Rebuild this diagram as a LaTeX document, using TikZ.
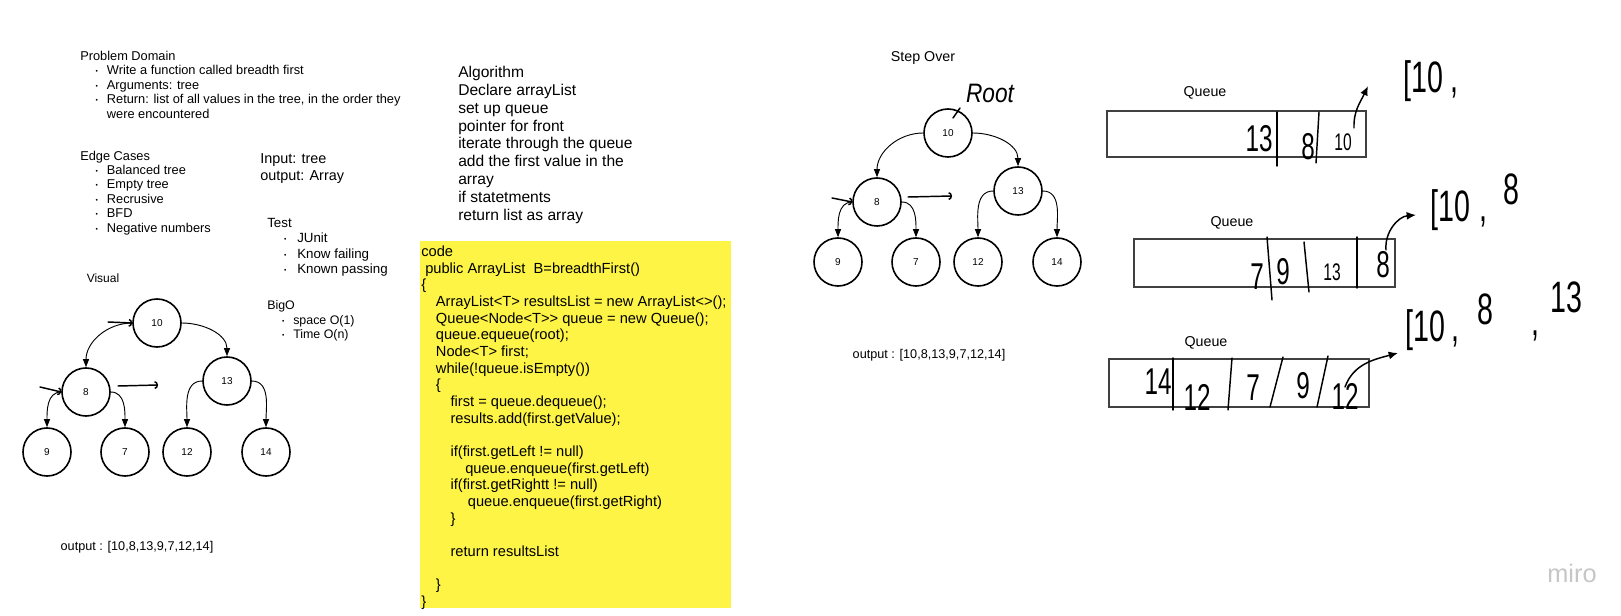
\documentclass[tikz,border=0pt]{standalone}
\usepackage{fontspec}
\setmainfont{Liberation Sans}
\usepackage{graphicx}
\usetikzlibrary{arrows.meta}
\newcommand{\EdgeArrowType}{Triangle}
\newcommand{\Hand}[1]{\scalebox{0.65}[1]{#1}}
\newcommand{\Dot}{\raisebox{0.7pt}{\fontsize{5}{5}\selectfont\textbullet}}
\newcommand{\Item}[2]{\makebox[#2][l]{\hspace*{#1}\Dot}}
\definecolor{stickyyellow}{RGB}{254,244,69}
\definecolor{boxgray}{RGB}{64,64,64}

\begin{document}
\begin{tikzpicture}[x=0.75pt, y=0.75pt,
    txt/.style={anchor=north west, inner sep=0pt, align=left},
    headtext/.style={inner sep=0pt, font=\fontsize{10.7}{10.7}\selectfont},
    tnode/.style={circle, draw, line width=1.2pt, minimum size=36pt, inner sep=0pt, font=\fontsize{7.5}{7.5}\selectfont},
    tedge/.style={-{\EdgeArrowType[length=6pt,width=4.5pt]}, line width=0.7pt},
    scribble/.style={line width=1.1pt, line cap=round, line join=round},
    handarrow/.style={scribble, -{Arc Barb[length=2.5pt,width=6pt]}},
    curlarrow/.style={scribble, -{Latex[length=7pt,width=6pt]}},
    hand/.style={inner sep=0pt, font=\fontsize{28}{28}\selectfont},
    handsmall/.style={inner sep=0pt, font=\fontsize{18}{18}\selectfont},
    handbig/.style={inner sep=0pt, anchor=base west, font=\fontsize{33}{33}\selectfont},
    queuebox/.style={draw=boxgray, line width=1pt}]
    \fill[white] (0,0) rectangle (1621,-616);
    \useasboundingbox (0,0) rectangle (1621,-616);

    \node[txt, font=\fontsize{9.6}{10.9}\selectfont] (domain) at (80,-50.5) {Problem Domain\\
        \Item{11.6pt}{20pt}Write a function called breadth first\\
        \Item{11.6pt}{20pt}Arguments: tree\\
        \Item{11.6pt}{20pt}Return: list of all values in the tree, in the order they\\
        \hspace*{20pt}were encountered};
    \node[txt, font=\fontsize{9.6}{10.8}\selectfont] (edges) at (80,-150.5) {Edge Cases\\
        \Item{11.6pt}{20pt}Balanced tree\\
        \Item{11.6pt}{20pt}Empty tree\\
        \Item{11.6pt}{20pt}Recrusive\\
        \Item{11.6pt}{20pt}BFD\\
        \Item{11.6pt}{20pt}Negative numbers};
    \node[txt, font=\fontsize{10.8}{12.75}\selectfont] (io) at (260,-153.8) {Input: tree\\output: Array};
    \node[txt, font=\fontsize{10}{11.5}\selectfont] (tests) at (267,-218) {Test\\
        \Item{12.6pt}{22.5pt}JUnit\\
        \Item{12.6pt}{22.5pt}Know failing\\
        \Item{12.6pt}{22.5pt}Known passing};
    \node[txt, font=\fontsize{9.3}{10.9}\selectfont] (bigo) at (267,-300.4) {BigO\\
        \Item{11.1pt}{19.5pt}space O(1)\\
        \Item{11.1pt}{19.5pt}Time O(n)};
    \node[font=\fontsize{9}{9}\selectfont] (visual) at (103,-278) {Visual};

    \node[txt, font=\fontsize{11.7}{13.4}\selectfont] (algo) at (458,-65.9) {Algorithm\\Declare arrayList\\set up queue\\pointer for front\\iterate through the queue\\add the first value in the\\array\\if statetments\\return list as array};

    \fill[stickyyellow] (420,-241) rectangle (731,-608);
    \node[txt, font=\fontsize{11}{12.5}\selectfont] (code) at (421,-245.6) {code\\
        \hspace*{3pt}public ArrayList\ \ B=breadthFirst()\\
        \{\\
        \hspace*{11pt}ArrayList<T> resultsList = new ArrayList<>();\\
        \hspace*{11pt}Queue<Node<T>{}> queue = new Queue();\\
        \hspace*{11pt}queue.equeue(root);\\
        \hspace*{11pt}Node<T> first;\\
        \hspace*{11pt}while(!queue.isEmpty())\\
        \hspace*{11pt}\{\\
        \hspace*{22pt}first = queue.dequeue();\\
        \hspace*{22pt}results.add(first.getValue);\\
        \mbox{}\\
        \hspace*{22pt}if(first.getLeft != null)\\
        \hspace*{33pt}queue.enqueue(first.getLeft)\\
        \hspace*{22pt}if(first.getRightt != null)\\
        \hspace*{35pt}queue.enqueue(first.getRight)\\
        \hspace*{22pt}\}\\
        \mbox{}\\
        \hspace*{22pt}return resultsList\\
        \mbox{}\\
        \hspace*{11pt}\}\\
        \}};

    \foreach \side/\dx/\dy in {L/0/0, R/791/190} {
        \node[tnode] (\side10) at (157+\dx, -323+\dy) {10};
        \node[tnode] (\side8) at (86+\dx, -392+\dy) {8};
        \node[tnode] (\side13) at (227+\dx, -381+\dy) {13};
        \node[tnode] (\side9) at (47+\dx, -452+\dy) {9};
        \node[tnode] (\side7) at (125+\dx, -452+\dy) {7};
        \node[tnode] (\side12) at (187+\dx, -452+\dy) {12};
        \node[tnode] (\side14) at (266+\dx, -452+\dy) {14};
        \draw[tedge] (\side10.west) to[out=180,in=90] (\side8.north);
        \draw[tedge] (\side10.east) to[out=0,in=90] (\side13.north);
        \draw[tedge] (\side8.west) to[out=180,in=90] (\side9.north);
        \draw[tedge] (\side8.east) to[out=0,in=90] (\side7.north);
        \draw[tedge] (\side13.west) to[out=180,in=90] (\side12.north);
        \draw[tedge] (\side13.east) to[out=0,in=90] (\side14.north);
    }
    \coordinate (markL10) at (108,-322);
    \draw[handarrow] (markL10) -- (L10.west);
    \coordinate (markL8) at (40,-387);
    \draw[handarrow] (markL8) -- (L8.west);
    \coordinate (nextL1) at (118,-386);
    \coordinate (nextL2) at (158,-385);
    \draw[handarrow] (nextL1) -- (nextL2);
    \node[font=\fontsize{9.5}{9.5}\selectfont] (outputL) at (137,-547) {output : [10,8,13,9,7,12,14]};

    \node[headtext] (stepover) at (923,-58) {Step Over};
    \node[inner sep=0pt, font=\fontsize{20}{20}\selectfont\itshape] (root) at (990,-93) {\scalebox{0.85}[1]{Root}};
    \coordinate (rootA) at (953,-118);
    \coordinate (rootB) at (960,-108);
    \draw[scribble] (rootA) -- (rootB);
    \coordinate (markR8) at (832,-198);
    \draw[handarrow] (markR8) -- (R8.west);
    \coordinate (nextR1) at (908,-197);
    \coordinate (nextR2) at (952,-196);
    \draw[handarrow] (nextR1) -- (nextR2);
    \node[font=\fontsize{9.5}{9.5}\selectfont] (outputR) at (929,-355) {output : [10,8,13,9,7,12,14]};

    \node[headtext] (queue1) at (1205,-93) {Queue};
    \draw[queuebox] (1107,-111) rectangle (1366,-157);
    \node[hand] (q1a) at (1259,-139) {\Hand{13}};
    \node[hand] (q1b) at (1308,-147) {\Hand{8}};
    \node[handsmall] (q1c) at (1343,-142) {\Hand{10}};
    \draw[scribble] (1277,-112) -- (1277,-166);
    \draw[scribble] (1319,-112) -- (1316,-163);
    \coordinate (q1from) at (1354,-128);
    \coordinate (q1to) at (1368,-86);
    \draw[curlarrow] (q1from) to[out=92,in=245] (q1to);
    \node[handbig] (list1) at (1403,-93) {\Hand{[10\hspace{9.2pt},}};

    \node[headtext] (queue2) at (1232,-223) {Queue};
    \draw[queuebox] (1134,-239) rectangle (1395,-287);
    \node[hand] (q2a) at (1257,-277) {\Hand{7}};
    \node[hand] (q2b) at (1283,-272) {\Hand{9}};
    \node[handsmall] (q2c) at (1332,-272) {\Hand{13}};
    \node[hand] (q2d) at (1383,-265) {\Hand{8}};
    \draw[scribble] (1267,-237) -- (1272,-300);
    \draw[scribble] (1304,-242) -- (1309,-292);
    \draw[scribble] (1357,-237) -- (1357,-288);
    \coordinate (q2from) at (1386,-250);
    \coordinate (q2to) at (1416,-215);
    \draw[curlarrow] (q2from) to[out=95,in=185] (q2to);
    \node[handbig] (list2) at (1430,-222) {\Hand{[10\hspace{10.4pt},\hspace{18.5pt}\raisebox{12.75pt}{8}}};

    \node[headtext] (queue3) at (1206,-343) {Queue};
    \draw[queuebox] (1109,-359) rectangle (1369,-407);
    \node[hand] (q3a) at (1158,-382) {\Hand{14}};
    \node[hand] (q3b) at (1197,-397) {\Hand{12}};
    \node[hand] (q3c) at (1253,-388) {\Hand{7}};
    \node[hand] (q3d) at (1303,-386) {\Hand{9}};
    \node[hand] (q3e) at (1345,-396) {\Hand{12}};
    \draw[scribble] (1173,-358) -- (1173,-410);
    \draw[scribble] (1232,-358) -- (1228,-410);
    \draw[scribble] (1283,-357) -- (1270,-407);
    \draw[scribble] (1328,-356) -- (1317,-407);
    \coordinate (q3from) at (1345,-387);
    \coordinate (q3to) at (1398,-353);
    \draw[curlarrow] (q3from) to[out=70,in=195] (q3to);
    \node[handbig] (list3) at (1405,-342) {\Hand{[10\hspace{8pt},\hspace{20.8pt}\raisebox{12.75pt}{8}\hspace{43.8pt}\raisebox{5pt}{,}\hspace{12.7pt}\raisebox{21.75pt}{13}}};

    \node[text=gray!45, font=\fontsize{19}{19}\selectfont] (watermark) at (1572,-573) {miro};
\end{tikzpicture}
\end{document}
